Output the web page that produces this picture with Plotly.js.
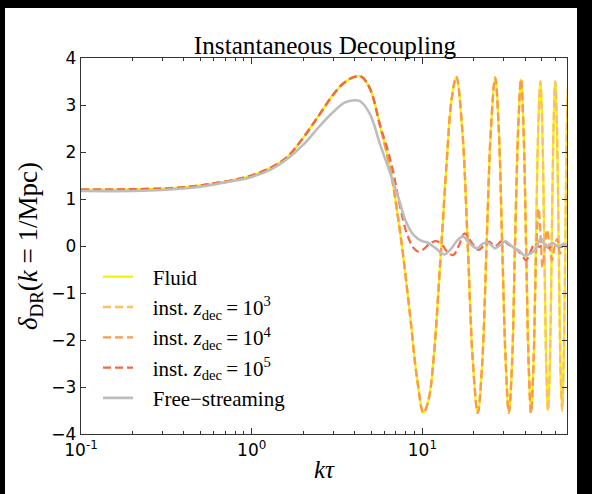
<!DOCTYPE html>
<html><head><meta charset="utf-8">
<script src="https://cdn.plot.ly/plotly-3.0.1.min.js"></script>
<style>html,body{margin:0;padding:0;background:#000;} #chart{width:592px;height:494px;}</style>
</head><body><div id="chart"></div>
<script>
// Fluid (also followed by inst. z_dec=10^3 over the whole plotted range)
var fluidX = [0.1,0.15,0.2,0.3,0.4,0.5,0.6,0.8,1.0,1.3,1.6,2.0,2.5,3.0,3.5,4.0,4.4,4.94,5.66,6.48,7.09,7.71,8.48,9.29,10.15,10.9,11.6,12.8,13.9,14.8,15.8,17.1,18.4,19.7,21.1,22.4,23.8,25.2,26.7,28.0,29.3,30.7,32.1,33.5,34.9,36.4,37.8,39.1,40.5,41.9,43.3,44.8,46.2,47.7,49.1,50.4,51.8,53.1,54.4,55.8,57.2,58.6,60.0,61.4,62.9,64.3,65.8,67.2,68.7,70.1,71.5];
var fluidY = [1.2,1.2,1.21,1.22,1.25,1.29,1.33,1.41,1.5,1.67,1.88,2.3,2.8,3.22,3.48,3.6,3.6,3.34,2.55,1.63,0.77,-0.2,-1.5,-2.8,-3.55,-3.25,-2.44,-0.2,1.84,3.1,3.6,2.5,0.1,-2.4,-3.55,-2.5,0.1,2.5,3.58,2.5,0.1,-2.4,-3.55,-2.5,0.1,2.5,3.55,2.5,0.0,-2.5,-3.55,-2.5,0.0,2.5,3.5,2.5,0.0,-2.5,-3.5,-2.5,0.0,2.5,3.5,2.5,0.0,-2.5,-3.5,-2.5,0.0,2.5,3.5];

var z3X = fluidX.slice();
var z3Y = fluidY.slice();

var z4X = [0.1,0.15,0.2,0.3,0.4,0.5,0.6,0.8,1.0,1.3,1.6,2.0,2.5,3.0,3.5,4.0,4.4,4.94,5.66,6.48,7.09,7.71,8.48,9.29,10.15,10.9,11.6,12.8,13.9,14.8,15.8,17.1,18.4,19.7,21.1,22.4,23.8,25.2,26.7,28.0,29.3,30.7,32.1,33.5,34.9,36.4,37.8,39.1,40.5,41.9,43.3,44.8,46.3,47.9,49.3,50.5,52.0,53.8,55.5,57.5,59.5,61.6,64.1,67.0,70.3,72.0];
var z4Y = [1.2,1.2,1.21,1.22,1.25,1.29,1.33,1.41,1.5,1.67,1.88,2.3,2.8,3.22,3.48,3.6,3.6,3.34,2.55,1.63,0.77,-0.2,-1.5,-2.8,-3.55,-3.25,-2.44,-0.2,1.84,3.1,3.6,2.5,0.1,-2.4,-3.55,-2.5,0.1,2.5,3.58,2.5,0.1,-2.4,-3.55,-2.5,0.1,2.5,3.55,2.5,0.0,-2.5,-3.55,-2.4,-0.3,0.8,0.2,-0.45,-0.05,0.35,0.0,-0.3,0.0,0.15,-0.16,0.05,-0.05,0.0];

var z5X = [0.1,0.15,0.2,0.3,0.4,0.5,0.6,0.8,1.0,1.3,1.6,2.0,2.5,3.0,3.5,4.0,4.4,4.94,5.66,6.2,6.7,7.4,8.1,8.9,9.5,10.3,11.1,12.2,13.2,14.2,15.2,16.3,17.7,18.8,19.9,21.3,22.8,24.6,26.7,28.5,29.8,32.0,35.0,37.7,40.5,43.0,45.5,48.5,51.5,55.0,59.0,64.0,70.3,72.0];
var z5Y = [1.2,1.2,1.21,1.22,1.25,1.29,1.33,1.41,1.5,1.67,1.88,2.3,2.8,3.22,3.48,3.6,3.6,3.34,2.55,2.1,1.62,0.84,0.27,-0.05,-0.12,-0.05,0.06,0.1,0.0,-0.15,-0.19,0.0,0.27,0.15,0.02,-0.08,0.0,0.09,-0.01,0.08,0.12,0.03,-0.05,-0.16,-0.3,-0.12,0.05,-0.02,0.05,-0.04,0.03,-0.02,0.0,0.0];

var fsX = [0.1,0.2,0.3,0.5,0.7,1.0,1.3,1.6,2.0,2.5,3.0,3.5,4.0,4.32,4.94,5.66,6.48,7.3,7.95,8.9,10.0,10.6,12.0,13.4,14.8,16.0,17.3,19.0,20.9,22.4,23.9,25.3,26.6,28.5,30.6,32.8,35.0,37.0,39.5,42.5,45.2,47.5,49.5,51.5,53.8,56.0,58.6,61.0,64.0,67.0,70.3,72.0];
var fsY = [1.17,1.17,1.19,1.26,1.35,1.47,1.63,1.84,2.15,2.55,2.85,3.05,3.1,3.08,2.8,2.15,1.55,0.98,0.55,0.23,0.1,0.08,-0.05,-0.18,-0.05,0.12,0.2,0.05,-0.05,0.04,0.08,0.02,-0.05,0.02,0.1,0.02,-0.06,-0.1,-0.2,-0.17,-0.1,0.05,0.17,0.05,-0.01,0.04,0.06,0.0,0.0,0.04,0.02,0.02];

var names = ['Fluid',
  'inst. <i>z</i><sub>dec</sub>\u2009=\u200910<sup>3</sup>',
  'inst. <i>z</i><sub>dec</sub>\u2009=\u200910<sup>4</sup>',
  'inst. <i>z</i><sub>dec</sub>\u2009=\u200910<sup>5</sup>',
  'Free\u2212streaming'];
var colors = ['#f4f400','#fdbf66','#fc9a4c','#f26a45','#bdbdbd'];
var xTickVals = [0.1,1,10];
var xTickText = ['10<sup>-1</sup>','10<sup>0</sup>','10<sup>1</sup>'];
var xMinorVals = [0.2,0.3,0.4,0.5,0.6,0.7,0.8,0.9,2,3,4,5,6,7,8,9,20,30,40,50,60,70];
var yTickVals = [-4,-3,-2,-1,0,1,2,3,4];

var pad = '\u2002\u2009';
var series = [[fluidX,fluidY,'solid'],[z3X,z3Y,'8px,4px'],[z4X,z4Y,'8px,4px'],[z5X,z5Y,'8px,4px'],[fsX,fsY,'solid']];
var traces = series.map(function(s,i){
  return {x:s[0], y:s[1], type:'scatter', mode:'lines', name: pad + names[i], legendgroup:'g'+i,
    line:{color:colors[i], width: i===4 ? 2.6 : 2.3, dash:s[2], shape:'spline', smoothing:1}};
});

var layout = {
  width:592, height:494,
  paper_bgcolor:'#000', plot_bgcolor:'#fff',
  margin:{l:81, r:25, t:58, b:60},
  showlegend:true,
  title:{text:'Instantaneous Decoupling', font:{family:'Liberation Serif', size:25.2, color:'#000'},
    x:325/592, xanchor:'center', y:1-45/494, yanchor:'middle', xref:'container', yref:'container'},
  xaxis:{type:'log', range:[-1, 1.847], tickmode:'array', tickvals:xTickVals, ticktext:xTickText,
    ticks:'inside', ticklen:6, tickcolor:'#333', tickwidth:1,
    minor:{tickmode:'array', tickvals:xMinorVals, ticks:'inside', ticklen:3, tickcolor:'#333', tickwidth:1},
    showline:true, linecolor:'#333', linewidth:1.3, mirror:'allticks', showgrid:false, zeroline:false,
    tickfont:{family:'DejaVu Sans', size:17, color:'#000'},
    title:{text:'<i>kτ</i>', font:{family:'Liberation Serif', size:25, color:'#000'}, standoff:1}},
  yaxis:{range:[-4,4], tickmode:'array', tickvals:yTickVals,
    ticks:'inside', ticklen:5, tickcolor:'#333', tickwidth:1,
    showline:true, linecolor:'#333', linewidth:1.3, mirror:'allticks', showgrid:false, zeroline:false,
    tickfont:{family:'DejaVu Sans', size:17, color:'#000'},
    title:{text:'<i>δ</i><sub>DR</sub>(<i>k</i>\u2005=\u20051/Mpc)', font:{family:'Liberation Serif', size:27, color:'#000'}, standoff:5}},
  legend:{x:0.035, y:0.472, xanchor:'left', yanchor:'top', bgcolor:'rgba(0,0,0,0)', borderwidth:0,
    traceorder:'grouped', tracegroupgap:0,
    font:{family:'Liberation Serif', size:21, color:'#000'}, itemwidth:30},
  shapes:[{type:'rect', xref:'paper', yref:'paper', x0:(5-81)/486, x1:(577-81)/486, y0:(434-494)/376, y1:(434-8)/376,
    fillcolor:'#fff', line:{width:0}, layer:'below'}]
};
Plotly.newPlot('chart', traces, layout, {displayModeBar:false, staticPlot:true});
</script></body></html>
